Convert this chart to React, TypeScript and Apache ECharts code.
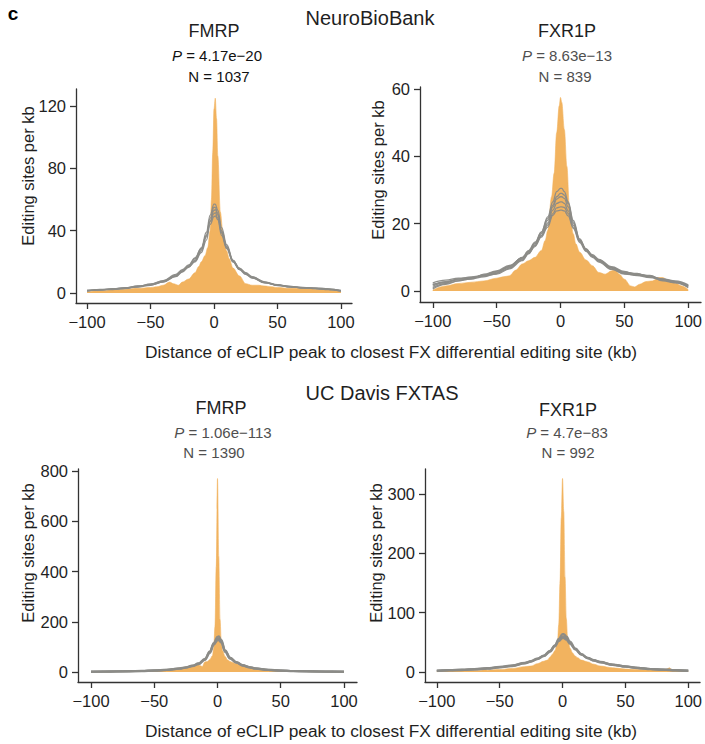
import React, { useEffect, useRef } from "react";
import * as echarts from "echarts";

// ---------- data ----------
const X_TICKS = [-100, -50, 0, 50, 100];

// common x positions of the gray (permutation) lines
const GX = [-100, -90, -80, -70, -60, -50, -40, -30, -25, -20, -15, -10, -6, -3, 0, 1, 3, 6, 10, 15, 20, 25, 30, 40, 50, 60, 70, 80, 90, 100];

// Panel 1: NeuroBioBank FMRP
const X1 = [-100, -90, -80, -70, -60, -50, -45, -40, -35, -32, -28, -25, -20, -15, -12, -10, -7, -5, -3, -2, -1, 0, 1, 2, 3, 5, 7, 10, 12, 15, 20, 25, 30, 35, 40, 45, 50, 60, 70, 80, 90, 100];
const O1 = [0.8, 1.5, 2, 2.5, 3, 3.5, 4, 5, 7, 6, 5, 7, 9, 13, 17, 20, 24, 29, 40, 60, 90, 118, 125, 112, 88, 52, 39, 27, 22, 16, 11, 6, 5, 5, 4.5, 4, 3.5, 3, 3, 2.5, 2, 1];
const G1A = [1.5, 2.0, 2.6, 3.0, 4.2, 5.5, 7.8, 11.5, 14.5, 17.5, 22, 29, 39, 50, 57, 57, 53, 42, 31, 21, 16, 13, 10.5, 7.2, 5.2, 4.2, 3.6, 3.0, 2.4, 1.4];
const G1B = [1.2, 2.3, 2.4, 3.4, 3.8, 5.0, 7.2, 11.0, 14.0, 17.0, 21, 28, 37, 48, 55, 55, 51, 40, 30, 20.5, 15.5, 12.5, 10, 6.8, 5.0, 4.0, 3.3, 3.2, 2.6, 1.6];
const G1C = [1.8, 1.9, 2.8, 3.2, 4.6, 5.3, 7.5, 10.5, 13.5, 16.5, 20.5, 27, 36, 46, 53, 53.5, 50, 39, 29, 20, 15, 12, 9.6, 6.5, 5.4, 3.8, 3.5, 2.8, 2.3, 1.2];
const G1D = [1.4, 2.2, 2.2, 2.8, 4.0, 5.8, 8.0, 12.0, 15.0, 18.0, 22.5, 28.5, 37, 46, 51, 51.5, 48, 38.5, 29.5, 21, 16, 12.8, 10.2, 7.0, 4.8, 4.3, 3.2, 3.1, 2.7, 1.7];
const G1E = [1.6, 1.8, 2.5, 3.3, 4.4, 5.2, 7.0, 10.8, 13.8, 16.8, 20, 26, 34, 44, 49, 49.5, 47, 37, 28.5, 20, 15.2, 12.2, 9.8, 6.6, 5.1, 3.9, 3.4, 2.9, 2.2, 1.3];
const Y1_TICKS = [0, 40, 80, 120];

// Panel 2: NeuroBioBank FXR1P
const X2 = [-100, -90, -80, -70, -60, -50, -45, -40, -35, -30, -25, -20, -15, -12, -10, -7, -5, -3, -1, 0, 1, 3, 5, 7, 10, 12, 15, 20, 25, 30, 35, 40, 43, 46, 50, 55, 58, 62, 67, 72, 77, 80, 85, 90, 95, 100];
const O2 = [0.3, 1.5, 2.2, 2.6, 3, 3.8, 4.2, 4.5, 6.2, 8, 9, 10, 12, 15, 18, 28, 35, 47, 55, 57.5, 56, 48, 37, 25, 17, 14, 11.5, 9.2, 7.5, 5.5, 5, 6, 6.2, 5, 3.5, 1.5, 1.2, 2, 2.8, 3, 4, 4, 2.8, 2.3, 1.5, 0.4];
const G2A = [1.0, 2.2, 3.0, 3.6, 4.2, 5.2, 6.8, 9.5, 11.5, 14, 17.5, 22, 26.5, 29.5, 30.5, 30.5, 29.5, 26.5, 21, 15.5, 12.5, 10.5, 9, 6.8, 5.2, 4.6, 4.0, 3.2, 2.5, 1.2];
const G2B = [1.8, 2.8, 3.5, 3.8, 4.8, 5.8, 7.2, 10, 12, 14.5, 17.5, 21.5, 25.5, 28, 29, 29, 28.5, 26, 20.5, 15, 12.2, 10.6, 9.2, 7.0, 5.6, 5.0, 4.4, 3.5, 2.8, 1.6];
const G2C = [0.6, 2.0, 3.0, 4.0, 4.4, 5.4, 7.4, 9.8, 11.8, 14.2, 17, 21, 25, 27.3, 28, 28, 27.5, 25, 20, 15.2, 12.5, 10.3, 8.8, 6.5, 5.0, 4.8, 4.5, 3.0, 2.4, 1.0];
const G2D = [2.4, 3.2, 3.8, 4.0, 4.6, 5.0, 6.6, 9.0, 11.0, 13.5, 16.5, 20.2, 24, 26, 26.5, 26.5, 26, 23.8, 19.5, 14.8, 12, 10.2, 9, 6.9, 5.5, 5.2, 4.1, 3.6, 3.0, 1.8];
const G2E = [1.4, 2.6, 3.3, 3.5, 5.0, 6.0, 7.6, 9.8, 11.4, 13.6, 16.3, 19.6, 23, 24.7, 25, 25, 24.8, 23, 19, 14.8, 12.3, 10.8, 9.4, 7.2, 5.8, 4.7, 4.2, 3.4, 2.7, 1.4];
const G2F = [2.0, 2.4, 3.6, 4.2, 4.6, 5.6, 7.0, 9.2, 11.2, 13.2, 16, 19, 22.5, 23.8, 24, 24, 23.8, 22.3, 18.6, 14.4, 11.8, 10, 8.6, 6.4, 5.3, 4.9, 4.6, 3.3, 2.6, 1.5];
const Y2_TICKS = [0, 20, 40, 60];

// Panel 3: UC Davis FXTAS FMRP
const X3 = [-100, -80, -60, -50, -40, -30, -25, -20, -17, -15, -12, -10, -8, -6, -4, -3, -2, -1, 0, 1, 2, 3, 4, 6, 8, 10, 12, 15, 20, 25, 30, 40, 50, 60, 80, 100];
const O3 = [1, 2, 4, 6, 9, 15, 20, 26, 30, 28, 22, 40, 42, 50, 65, 95, 180, 420, 770, 460, 210, 120, 85, 62, 48, 42, 38, 33, 24, 18, 14, 8, 5.5, 3.5, 2, 1];
const G3A = [1, 1.5, 2.2, 3, 4, 6, 8.5, 14, 18, 24, 33, 50, 80, 115, 140, 142, 128, 86, 57, 39, 27, 20, 15, 9, 6, 4, 3, 2, 1.5, 1];
const G3B = [1.5, 2, 2.5, 3.5, 4.5, 6.5, 9, 15, 19, 25, 34, 52, 82, 112, 132, 133, 122, 84, 55, 38, 26, 19, 14, 8.5, 5.8, 4, 3, 2.2, 1.6, 1.2];
const G3C = [0.8, 1.2, 2, 2.8, 3.8, 5.6, 8, 13, 17, 23, 31, 48, 76, 108, 126, 127, 117, 80, 53, 37, 25, 18.5, 13.5, 8, 5.5, 3.8, 2.8, 1.8, 1.2, 0.8];
const Y3_TICKS = [0, 200, 400, 600, 800];

// Panel 4: UC Davis FXTAS FXR1P
const X4 = [-100, -90, -80, -70, -64, -62, -60, -50, -40, -30, -25, -20, -15, -12, -10, -8, -6, -4, -3, -2, -1, 0, 1, 2, 3, 4, 6, 8, 10, 12, 15, 20, 25, 30, 40, 50, 60, 70, 80, 83, 85, 87, 90, 100];
const O4 = [0.5, 1.5, 2, 2.5, 3, 6, 3, 4, 6, 9, 10, 14, 18, 20, 25, 30, 36, 50, 80, 150, 260, 326, 270, 160, 90, 60, 40, 32, 27, 24, 20, 17, 13, 10, 7, 5, 4, 3.5, 3, 5, 7, 4, 3, 1];
const G4A = [2, 3, 3.5, 4.5, 6, 8, 10.5, 15, 18, 22, 27, 35, 45, 56, 64, 64, 60, 51, 40, 30, 24, 20, 17, 12.5, 9.5, 7, 5, 4, 3, 2];
const G4B = [2.5, 3.3, 4, 5, 6.4, 8.5, 11, 15.5, 18.5, 22.5, 27.5, 35.5, 45, 54, 60, 60, 57, 49, 39, 29.5, 23.5, 19.5, 16.5, 12, 9, 6.8, 5, 4, 3.2, 2.2];
const G4C = [1.6, 2.6, 3.2, 4.2, 5.6, 7.6, 10, 14.5, 17.5, 21.5, 26.5, 34, 43, 52, 57, 57, 54.5, 47.5, 38, 29, 23, 19, 16, 12, 9.2, 6.5, 4.8, 3.7, 2.8, 1.8];
const Y4_TICKS = [0, 100, 200, 300];

// ---------- style ----------
const FONT = "'Liberation Sans', Arial, Helvetica, sans-serif";
const ORANGE = "#F2B35F";
const GRAY = "#8B8B87";
const AXIS = "#333333";
const TEXT = "#1f1f1f";
const SUB = "#4f4f4f";

const PANELS = [
  { grid: { left: 76, top: 89, width: 276, height: 214 }, xr: 108.7, ymin: -6.4, ymax: 130.9, yt: Y1_TICKS, ox: X1, oy: O1, g: [G1A, G1B, G1C, G1D, G1E], gw: 1.3 },
  { grid: { left: 420, top: 87, width: 284, height: 215 }, xr: 110, ymin: -3.27, ymax: 60.6, yt: Y2_TICKS, ox: X2, oy: O2, g: [G2A, G2B, G2C, G2D, G2E, G2F], gw: 1.3 },
  { grid: { left: 78, top: 469, width: 279, height: 213 }, xr: 110.3, ymin: -39.8, ymax: 808, yt: Y3_TICKS, ox: X3, oy: O3, g: [G3A, G3B, G3C], gw: 2.2 },
  { grid: { left: 425, top: 469, width: 278, height: 213 }, xr: 109.4, ymin: -16.9, ymax: 342, yt: Y4_TICKS, ox: X4, oy: O4, g: [G4A, G4B, G4C], gw: 2.2 },
];

const fmt = (v: number) => (v < 0 ? "\u2212" + Math.abs(v) : String(v));

function txt(x: number, y: number, text: string, size: number, color: string, extra: any = {}) {
  return {
    type: "text",
    x,
    y,
    rotation: extra.rotation || 0,
    style: {
      text,
      fontSize: size,
      fontFamily: FONT,
      fontWeight: extra.bold ? "bold" : "normal",
      fill: color,
      align: extra.align || "center",
      verticalAlign: "middle",
    },
  };
}

function pLine(cx: number, y: number, val: string, color: string) {
  return {
    type: "text",
    x: cx,
    y,
    style: {
      text: "{i|P} = " + val,
      fontSize: 15,
      fontFamily: FONT,
      fill: color,
      align: "center",
      verticalAlign: "middle",
      rich: { i: { fontStyle: "italic", fontSize: 15, fontFamily: FONT, fill: color } },
    },
  };
}

export default function App() {
  const ref = useRef<HTMLDivElement>(null);
  useEffect(() => {
    if (!ref.current) return;
    const chart = echarts.init(ref.current, undefined, { renderer: "svg" });
    const grid: any[] = [];
    const xAxis: any[] = [];
    const yAxis: any[] = [];
    const series: any[] = [];
    PANELS.forEach((p, i) => {
      grid.push({ ...p.grid, containLabel: false });
      xAxis.push({
        type: "value",
        gridIndex: i,
        min: -p.xr,
        max: p.xr,
        splitLine: { show: false },
        axisLine: { onZero: false, lineStyle: { color: AXIS, width: 1.3 } },
        axisTick: { customValues: X_TICKS, length: 6, lineStyle: { color: AXIS, width: 1.3 } },
        axisLabel: { customValues: X_TICKS, formatter: fmt, color: TEXT, fontSize: 16.5, fontFamily: FONT, margin: 10 },
      });
      yAxis.push({
        type: "value",
        gridIndex: i,
        min: p.ymin,
        max: p.ymax,
        splitLine: { show: false },
        axisLine: { show: true, onZero: false, lineStyle: { color: AXIS, width: 1.3 } },
        axisTick: { show: true, customValues: p.yt, length: 6, lineStyle: { color: AXIS, width: 1.3 } },
        axisLabel: { customValues: p.yt, color: TEXT, fontSize: 16.5, fontFamily: FONT, margin: 10 },
      });
      series.push({
        type: "line",
        xAxisIndex: i,
        yAxisIndex: i,
        data: p.ox.map((x, k) => [x, p.oy[k]]),
        smooth: 0.35,
        smoothMonotone: "x",
        showSymbol: false,
        lineStyle: { width: 0.6, color: ORANGE },
        areaStyle: { color: ORANGE, opacity: 1 },
        z: 2,
      });
      p.g.forEach((gy) => {
        series.push({
          type: "line",
          xAxisIndex: i,
          yAxisIndex: i,
          data: GX.map((x, k) => [x, gy[k]]),
          smooth: 0.4,
          smoothMonotone: "x",
          showSymbol: false,
          lineStyle: { width: p.gw, color: GRAY, opacity: 0.95 },
          z: 3,
        });
      });
    });

    const graphic: any[] = [
      txt(13, 13, "c", 19, "#000", { bold: true }),
      txt(370, 18, "NeuroBioBank", 20, TEXT),
      txt(214, 31, "FMRP", 18, TEXT),
      pLine(217, 55, "4.17e\u221220", "#111"),
      txt(219, 76, "N = 1037", 15, "#111"),
      txt(567, 31, "FXR1P", 18, TEXT),
      pLine(567, 55, "8.63e\u221213", SUB),
      txt(565, 76, "N = 839", 15, SUB),
      txt(391, 352, "Distance of eCLIP peak to closest FX differential editing site (kb)", 17.3, TEXT),
      txt(382, 393, "UC Davis FXTAS", 20, TEXT),
      txt(221, 408, "FMRP", 18, TEXT),
      pLine(223, 432, "1.06e\u2212113", SUB),
      txt(214, 452, "N = 1390", 15, SUB),
      txt(568, 410, "FXR1P", 18, TEXT),
      pLine(567, 432, "4.7e\u221283", SUB),
      txt(568, 452, "N = 992", 15, SUB),
      txt(391, 731, "Distance of eCLIP peak to closest FX differential editing site (kb)", 17.3, TEXT),
      txt(28, 176, "Editing sites per kb", 16.5, TEXT, { rotation: Math.PI / 2 }),
      txt(378, 170, "Editing sites per kb", 16.5, TEXT, { rotation: Math.PI / 2 }),
      txt(28, 553, "Editing sites per kb", 16.5, TEXT, { rotation: Math.PI / 2 }),
      txt(376, 553, "Editing sites per kb", 16.5, TEXT, { rotation: Math.PI / 2 }),
    ];

    chart.setOption({
      animation: false,
      backgroundColor: "#ffffff",
      grid,
      xAxis,
      yAxis,
      series,
      graphic,
    });
    return () => chart.dispose();
  }, []);
  return <div ref={ref} style={{ position: "absolute", left: 0, top: 0, width: 705, height: 744 }} />;
}
